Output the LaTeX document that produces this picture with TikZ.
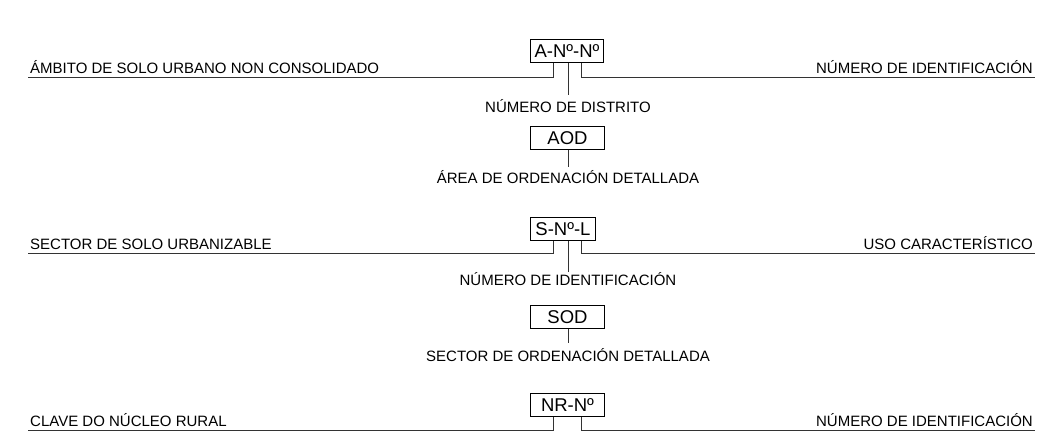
\documentclass[tikz,border=0pt]{standalone}
\usepackage{fontspec}
\setmainfont{Liberation Sans}
\begin{document}
\begin{tikzpicture}[x=1pt,y=-1pt,
  every node/.style={font=\fontsize{15}{18}\selectfont, inner sep=0pt},
  codebox/.style={draw=black, line width=1pt, minimum height=23pt, anchor=north west, font=\fontsize{18.5}{20}\selectfont},
  lbl/.style={anchor=base},
  lblL/.style={anchor=base west},
  lblR/.style={anchor=base east},
  conn/.style={draw=black!80, line width=1pt}]
\useasboundingbox (0,0) rectangle (1037,435);
% row 1
\node[codebox, minimum width=73pt] (A) at (530,39) {A-Nº-Nº};
\node[lblL] (tA1) at (30,74) {ÁMBITO DE SOLO URBANO NON CONSOLIDADO};
\node[lblR] (tA2) at (1033,74) {NÚMERO DE IDENTIFICACIÓN};
\node[lbl] (tA3) at (568,113) {NÚMERO DE DISTRITO};
\coordinate (aL) at (553,78); \coordinate (aLe) at (28,78);
\coordinate (aR) at (581,78); \coordinate (aRe) at (1035,78);
\coordinate (aC) at (568,95);
\draw[conn] (A.south -| aL) -- (aL) -- (aLe);
\draw[conn] (A.south -| aR) -- (aR) -- (aRe);
\draw[conn] (A.south -| aC) -- (aC);
% AOD
\node[codebox, minimum width=74pt] (B) at (530,126) {AOD};
\coordinate (bC) at (568,167);
\draw[conn] (B.south -| bC) -- (bC);
\node[lbl] (tB) at (568,184) {ÁREA DE ORDENACIÓN DETALLADA};
% row 2
\node[codebox, minimum width=65pt] (S) at (530,217) {S-Nº-L};
\node[lblL] (tS1) at (30,250) {SECTOR DE SOLO URBANIZABLE};
\node[lblR] (tS2) at (1033,250) {USO CARACTERÍSTICO};
\node[lbl] (tS3) at (568,286) {NÚMERO DE IDENTIFICACIÓN};
\coordinate (sL) at (553,254); \coordinate (sLe) at (28,254);
\coordinate (sR) at (581,254); \coordinate (sRe) at (1035,254);
\coordinate (sC) at (568,272);
\draw[conn] (S.south -| sL) -- (sL) -- (sLe);
\draw[conn] (S.south -| sR) -- (sR) -- (sRe);
\draw[conn] (S.south -| sC) -- (sC);
% SOD
\node[codebox, minimum width=74pt] (D) at (530,305) {SOD};
\coordinate (dC) at (568,343);
\draw[conn] (D.south -| dC) -- (dC);
\node[lbl] (tD) at (568,362) {SECTOR DE ORDENACIÓN DETALLADA};
% row 3
\node[codebox, minimum width=74pt] (N) at (530,393) {NR-Nº};
\node[lblL] (tN1) at (30,427) {CLAVE DO NÚCLEO RURAL};
\node[lblR] (tN2) at (1033,427) {NÚMERO DE IDENTIFICACIÓN};
\coordinate (nL) at (553,431); \coordinate (nLe) at (28,431);
\coordinate (nR) at (581,431); \coordinate (nRe) at (1035,431);
\draw[conn] (N.south -| nL) -- (nL) -- (nLe);
\draw[conn] (N.south -| nR) -- (nR) -- (nRe);
\end{tikzpicture}
\end{document}
